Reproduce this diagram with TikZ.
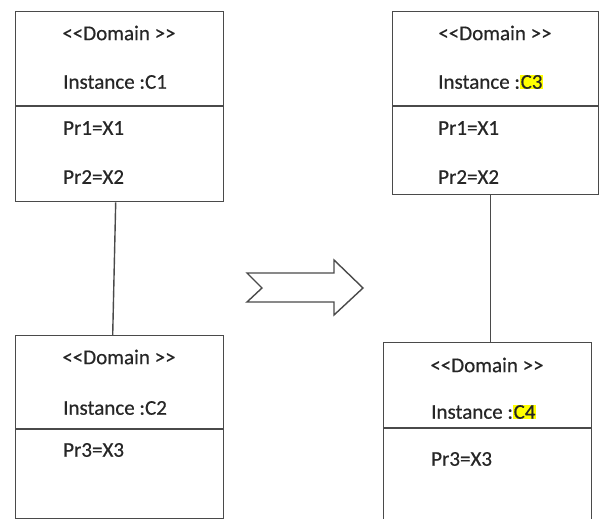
\documentclass[tikz,border=0pt]{standalone}
\usepackage{fontspec}
\setmainfont{Carlito}[Ligatures=TeXOff, FakeBold=0.5]
\usepackage{xcolor}
\definecolor{linegray}{HTML}{4A4A4A}
\definecolor{textgray}{HTML}{262626}
\definecolor{hl}{HTML}{FFFF00}
\newcommand{\hlt}[1]{{\setlength{\fboxsep}{0.6pt}\colorbox{hl}{#1}}}
\begin{document}
\begin{tikzpicture}[x=1pt, y=-1pt,
  classbox/.style={draw=linegray, line width=1.4pt, rectangle, inner sep=0pt, anchor=north west},
  divider/.style={draw=linegray, line width=1.4pt},
  link/.style={draw=linegray, line width=1.4pt},
  label/.style={text=textgray, inner sep=0pt, font=\fontsize{21}{25}\selectfont},
  leftlabel/.style={label, anchor=west},
  blockarrow/.style={draw=linegray, line width=1.4pt, line join=miter, fill=white}]
  \useasboundingbox (0,0) rectangle (600,519);

  % left column: original instances
  \node[classbox, minimum width=208pt, minimum height=190pt] (tl) at (15,11) {};
  \draw[divider] (15,106) -- (223,106);
  \node[label] (tld) at (119,33) {<<Domain >>};
  \node[leftlabel] (tli) at (63,82) {Instance :C1};
  \node[leftlabel] (tlp1) at (63,128) {Pr1=X1};
  \node[leftlabel] (tlp2) at (63,177) {Pr2=X2};

  \node[classbox, minimum width=208pt, minimum height=183pt] (bl) at (15,335) {};
  \draw[divider] (15,429) -- (223,429);
  \node[label] (bld) at (119,357) {<<Domain >>};
  \node[leftlabel] (bli) at (63,408) {Instance :C2};
  \node[leftlabel] (blp3) at (63,450) {Pr3=X3};

  \draw[link] ([xshift=-4pt]tl.south) -- ([xshift=-7pt]bl.north);

  % transformation arrow
  \draw[blockarrow] (247,273) -- (334,273) -- (334,260) -- (363,288) -- (334,315)
    -- (334,302) -- (247,302) -- (262,288) -- cycle;

  % right column: resulting instances
  \node[classbox, minimum width=206pt, minimum height=183pt] (tr) at (392,11) {};
  \draw[divider] (392,106) -- (598,106);
  \node[label] (trd) at (495,33) {<<Domain >>};
  \node[leftlabel] (tri) at (438,82) {Instance :\hlt{C3}};
  \node[leftlabel] (trp1) at (438,128) {Pr1=X1};
  \node[leftlabel] (trp2) at (438,177) {Pr2=X2};

  \node[classbox, minimum width=208pt, minimum height=190pt] (br) at (383,342) {};
  \draw[divider] (383,428) -- (591,428);
  \node[label] (brd) at (487,365) {<<Domain >>};
  \node[leftlabel] (bri) at (431,412) {Instance :\hlt{C4}};
  \node[leftlabel] (brp3) at (431,459) {Pr3=X3};

  \draw[link] ([xshift=-5pt]tr.south) -- ([xshift=3pt]br.north);
\end{tikzpicture}
\end{document}
